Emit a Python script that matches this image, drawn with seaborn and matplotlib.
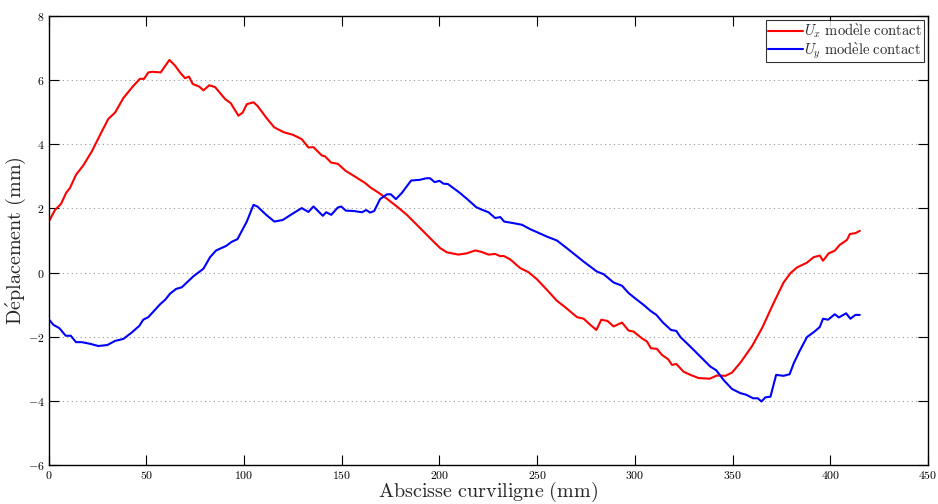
import numpy as np
import pandas as pd
import matplotlib
matplotlib.use("Agg")
import matplotlib.pyplot as plt
import seaborn as sns

# Ux (red)
ux_s = [0, 3.2, 6.3, 8.9, 10.9, 14, 17.7, 22, 26.3, 30.5, 34, 38.2, 43.3, 46.7, 48.8, 51, 53.2,
        57.3, 61.8, 64.7, 67.2, 69.8, 71.8, 73.7, 77, 79.2, 82.2, 85.2, 90.3, 93.2, 97.1, 99.3,
        101.4, 104.8, 106.8, 111.6, 115.4, 120.1, 125.2, 129.5, 132.9, 135.5, 139.8, 141.5,
        144.5, 148, 152, 156.8, 162, 164.5, 168.8, 172.7, 178.2, 183.3, 188.4, 194.4, 200.4,
        203.8, 209.7, 214, 218.3, 221.7, 225.1, 228.5, 231.1, 232.8, 236.2, 241.3, 245.6,
        249.9, 255, 260.1, 263.5, 270.4, 273.8, 277.2, 280.3, 282.8, 286, 289.1, 293.4,
        296.8, 299.3, 303.6, 306.2, 308.2, 311.3, 313.9, 317, 319, 321.2, 324.9, 328.4, 332.6,
        338.3, 342, 346.3, 349.7, 354, 360, 365.1, 371, 376.1, 379.6, 383, 388.1, 391.5,
        394.6, 396.3, 399.2, 402.3, 404.8, 408.6, 410, 412.9, 415.1]
ux_val = [1.58, 1.95, 2.14, 2.48, 2.64, 3.05, 3.34, 3.77, 4.29, 4.79, 4.99, 5.44, 5.82, 6.04,
          6.04, 6.24, 6.26, 6.24, 6.63, 6.45, 6.24, 6.06, 6.11, 5.88, 5.80, 5.68, 5.84, 5.78,
          5.41, 5.28, 4.89, 4.99, 5.25, 5.31, 5.20, 4.81, 4.53, 4.38, 4.29, 4.16, 3.90, 3.91,
          3.65, 3.62, 3.43, 3.39, 3.17, 2.99, 2.79, 2.66, 2.49, 2.32, 2.06, 1.80, 1.49, 1.12,
          0.76, 0.63, 0.56, 0.60, 0.69, 0.64, 0.56, 0.58, 0.51, 0.52, 0.41, 0.14, 0.01, -0.21,
          -0.54, -0.88, -1.04, -1.39, -1.44, -1.63, -1.79, -1.47, -1.51, -1.68, -1.56, -1.81,
          -1.84, -2.05, -2.15, -2.36, -2.38, -2.57, -2.70, -2.88, -2.85, -3.09, -3.19, -3.29,
          -3.31, -3.21, -3.22, -3.12, -2.81, -2.29, -1.73, -0.95, -0.31, -0.02, 0.16, 0.31,
          0.48, 0.53, 0.37, 0.60, 0.68, 0.86, 1.02, 1.20, 1.23, 1.30]

# Uy (blue)
uy_s = [0, 2.4, 5.4, 8.7, 11.3, 14, 16.9, 21.1, 25.4, 30, 34, 38.2, 42.5, 46.4, 48.4, 51, 57,
        59.6, 62.1, 65.2, 68.1, 74, 79.2, 82.6, 85.7, 90.8, 93.7, 96.6, 101.4, 104.8, 106.8,
        111.3, 115.5, 119.8, 125.2, 129.5, 132.9, 135.5, 140.3, 142, 144.6, 148, 149.7, 152.1,
        156, 160.3, 162.5, 164.5, 166.6, 169.6, 173.1, 175.1, 177.7, 180.7, 185.5, 189.8,
        193.2, 195.2, 197.5, 200, 202.1, 204.3, 207.2, 210.3, 214, 218.8, 221.7, 225.1,
        228.5, 231.1, 233.1, 237.9, 242.2, 246.5, 249.9, 255, 260.1, 265.2, 273.8, 280.6,
        284, 289.1, 293.4, 296.8, 301.1, 304.5, 307.9, 311, 314.4, 318.5, 321.2, 323.3,
        328.4, 333.5, 338.6, 341.7, 345.4, 349.7, 354, 357, 360.5, 362.9, 364.8, 366.8,
        369.4, 372.3, 376.1, 379.2, 381.3, 384.2, 388.1, 391.5, 394.6, 396.3, 398.9, 402.3,
        404.4, 408.1, 410.3, 412.9, 415.1]
uy_val = [-1.45, -1.63, -1.73, -1.97, -1.97, -2.17, -2.17, -2.22, -2.29, -2.26, -2.13, -2.07,
          -1.87, -1.66, -1.47, -1.39, -0.99, -0.85, -0.66, -0.51, -0.46, -0.12, 0.12, 0.48,
          0.69, 0.83, 0.96, 1.04, 1.59, 2.11, 2.06, 1.80, 1.59, 1.64, 1.85, 2.01, 1.89, 2.06,
          1.77, 1.88, 1.80, 2.03, 2.06, 1.93, 1.92, 1.88, 1.95, 1.87, 1.92, 2.29, 2.44, 2.44,
          2.29, 2.48, 2.87, 2.89, 2.94, 2.94, 2.82, 2.86, 2.77, 2.76, 2.63, 2.49, 2.30, 2.04,
          1.96, 1.88, 1.70, 1.73, 1.59, 1.54, 1.49, 1.35, 1.26, 1.12, 1.00, 0.76, 0.34, 0.03,
          -0.05, -0.31, -0.41, -0.64, -0.85, -1.01, -1.19, -1.32, -1.56, -1.79, -1.82, -2.01,
          -2.31, -2.62, -2.93, -3.05, -3.35, -3.63, -3.76, -3.81, -3.92, -3.92, -4.02, -3.89,
          -3.87, -3.19, -3.22, -3.17, -2.83, -2.46, -2.01, -1.86, -1.70, -1.44, -1.47, -1.30,
          -1.40, -1.27, -1.44, -1.32, -1.32]

sns.set_style("ticks")
plt.rcParams["mathtext.fontset"] = "cm"
plt.rcParams["font.family"] = ["cmr10", "DejaVu Serif"]
plt.rcParams["axes.formatter.use_mathtext"] = True
plt.rcParams["axes.unicode_minus"] = False

fig = plt.figure(figsize=(9.38, 5.04), dpi=100)
ax = fig.add_axes([0.0519, 0.0774, 0.9374, 0.8909])

sns.lineplot(x=ux_s, y=ux_val, ax=ax, color="#ff0000", lw=1.5,
             label=r"$U_x\ \mathrm{mod\grave{e}le\ contact}$")
sns.lineplot(x=uy_s, y=uy_val, ax=ax, color="#0000ff", lw=1.5,
             label=r"$U_y\ \mathrm{mod\grave{e}le\ contact}$")

ax.set_xlim(0, 450)
ax.set_ylim(-6, 8)
ax.set_xticks(np.arange(0, 451, 50))
ax.set_yticks(np.arange(-6, 9, 2))
ax.yaxis.grid(True, linestyle=(0, (1, 3)), color="#999999", lw=0.8)
ax.xaxis.grid(False)
ax.tick_params(direction="in", length=7, width=0.8, top=True, right=True,
               labelsize=8.5, colors="black", pad=3)
for sp in ax.spines.values():
    sp.set_visible(True)
    sp.set_linewidth(1.0)
    sp.set_color("black")

ax.set_xlabel(r"$\mathrm{Abscisse\ curviligne\ (mm)}$", fontsize=14.5, labelpad=-1)
ax.set_ylabel(r"$\mathrm{D\acute{e}placement\ (mm)}$", fontsize=14.5, labelpad=0)

leg = ax.legend(loc="upper right", fontsize=10.5, frameon=True, fancybox=False,
                borderpad=0.1, handlelength=2.4, handletextpad=0.1, labelspacing=0.0,
                borderaxespad=0.3)
leg.get_frame().set_edgecolor("black")
leg.get_frame().set_linewidth(0.8)

fig.savefig("out.png", dpi=100)
